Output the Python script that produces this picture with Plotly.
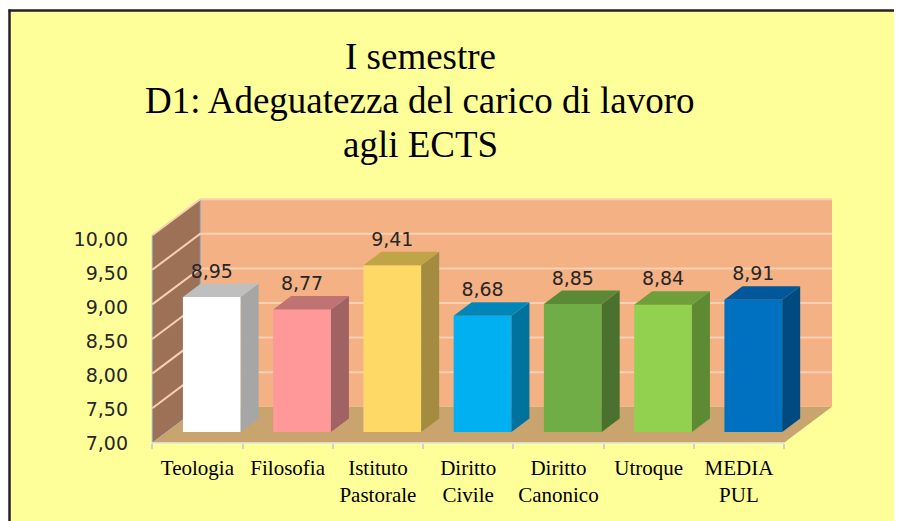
import plotly.graph_objects as go

# ---------------- data ----------------
categories = ["Teologia", "Filosofia", "Istituto<br>Pastorale", "Diritto<br>Civile",
              "Diritto<br>Canonico", "Utroque", "MEDIA<br>PUL"]
values = [8.95, 8.77, 9.41, 8.68, 8.85, 8.84, 8.91]
front_colors = ["#FFFFFF", "#FF9999", "#FFD966", "#00B0F0", "#70AD47", "#92D050", "#0070C0"]
side_colors = ["#A6A6A6", "#A06262", "#A38C3F", "#00729E", "#4A712D", "#5D8A32", "#004A82"]
top_colors = ["#BFBFBF", "#C07373", "#C0A548", "#0087B8", "#5B8A37", "#6F9E3B", "#00589A"]
y_ticks = [7.0, 7.5, 8.0, 8.5, 9.0, 9.5, 10.0]
title_lines = ["I semestre", "D1: Adeguatezza del carico di lavoro", "agli ECTS"]

# ---------------- geometry (pixel calibration, page coords minus body margin) ----------------
OFF = 8                       # browser body margin
W, H = 902 - OFF, 521 - OFF
X0PX, SX = 211.8 - OFF, 90.25     # px of category 0 centre (bar front), px per category
Y0PX, SY = 432.0 - OFF, 69.2      # px of value 7 at bar front, px per unit
BASE = y_ticks[0]
TOP = y_ticks[-1]
x_range = [(0 - X0PX) / SX, (W - X0PX) / SX]
y_range = [BASE - (H - Y0PX) / SY, BASE + Y0PX / SY]
DX, DY = 48.0 / SX, 36.0 / SY     # full-depth oblique shift in data units
D_FRONT, D_BACK = 0.30, 0.675     # bar depth span
BAR_W = 0.64
n = len(categories)
idx = list(range(n))


def proj(xc, v, d):
    return xc + DX * (d - D_FRONT), v + DY * (d - D_FRONT)


def pts(points):
    return [proj(*p) for p in points]


def path(points, close=True):
    p = pts(points)
    s = "M " + " L ".join(f"{x:.5f},{y:.5f}" for x, y in p)
    return s + (" Z" if close else "")


def closed_xy(points):
    p = pts(points)
    p.append(p[0])
    return [a for a, _ in p], [b for _, b in p]


left, right = -0.5, n - 0.5
shapes = [
    dict(type="rect", xref="paper", yref="paper", x0=1.5 / W, x1=1, y0=0, y1=1 - 2.5 / H,
         fillcolor="#FFFF99", line=dict(width=0), layer="below"),
]
# back wall
shapes.append(dict(type="path", xref="x", yref="y", layer="below",
                   path=path([(left, BASE, 1), (right, BASE, 1), (right, TOP, 1), (left, TOP, 1)]),
                   fillcolor="#F4B183", line=dict(width=0)))
# left wall
shapes.append(dict(type="path", xref="x", yref="y", layer="below",
                   path=path([(left, BASE, 0), (left, TOP, 0), (left, TOP, 1), (left, BASE, 1)]),
                   fillcolor="#9D7155", line=dict(width=1, color="#8FAACC")))
# gridlines on the walls
for t in y_ticks[1:]:
    shapes.append(dict(type="path", xref="x", yref="y", layer="below",
                       path=path([(left, t, 0), (left, t, 1), (right, t, 1)], close=False),
                       line=dict(width=2, color="#F9D0B4")))
# floor
shapes.append(dict(type="path", xref="x", yref="y", layer="below",
                   path=path([(left, BASE, 0), (right, BASE, 0), (right, BASE, 1), (left, BASE, 1)]),
                   fillcolor="#C9A46F", line=dict(width=0)))
# front floor edge
shapes.append(dict(type="path", xref="x", yref="y", layer="below",
                   path=path([(left, BASE, 0), (right, BASE, 0)], close=False),
                   line=dict(width=1.5, color="#D9D9D9")))
# frame lines
shapes.append(dict(type="line", xref="paper", yref="paper", x0=0.5 / W, x1=1,
                   y0=1 - 2.5 / H, y1=1 - 2.5 / H, line=dict(color="#222222", width=2.5),
                   layer="above"))
shapes.append(dict(type="line", xref="paper", yref="paper", x0=1.5 / W, x1=1.5 / W,
                   y0=0, y1=1 - 1.5 / H, line=dict(color="#222222", width=2.5), layer="above"))

fig = go.Figure()
deco = dict(hoverinfo="skip", showlegend=False)

# bar front faces
fig.add_trace(go.Bar(x=idx, y=[v - BASE for v in values], base=BASE, width=BAR_W,
                     marker=dict(color=front_colors, line=dict(width=0)),
                     customdata=values, hovertemplate="%{customdata:.2f}<extra></extra>",
                     showlegend=False))

# bar side and top faces
for i, v in enumerate(values):
    xr = i + BAR_W / 2
    xl = i - BAR_W / 2
    xs, ys = closed_xy([(xr, BASE, D_FRONT), (xr, v, D_FRONT), (xr, v, D_BACK), (xr, BASE, D_BACK)])
    fig.add_trace(go.Scatter(x=xs, y=ys, fill="toself", fillcolor=side_colors[i],
                             mode="lines", line=dict(width=0), **deco))
    xs, ys = closed_xy([(xl, v, D_FRONT), (xr, v, D_FRONT), (xr, v, D_BACK), (xl, v, D_BACK)])
    fig.add_trace(go.Scatter(x=xs, y=ys, fill="toself", fillcolor=top_colors[i],
                             mode="lines", line=dict(width=0), **deco))

# value labels
fig.add_trace(go.Scatter(x=idx, y=[v + 0.35 for v in values], mode="text",
                         customdata=values, texttemplate="%{customdata:.2f}",
                         textfont=dict(family="DejaVu Sans", size=19, color="#262626"),
                         **deco))

# dummy trace to carry the label axes
fig.add_trace(go.Scatter(x=[0], y=[8], xaxis="x2", yaxis="y2", mode="markers",
                         marker=dict(opacity=0), **deco))

# y2 axis calibration: 7 -> 443.5 px, 10 -> 239 px (page coords)
Y2_7, Y2_S = 443.5 - OFF, (443.5 - 239.0) / (TOP - BASE)
y2_range = [BASE - (H - Y2_7) / Y2_S, BASE + Y2_7 / Y2_S]

cat_tickvals = [proj(i, BASE, 0)[0] for i in idx]
boundary_vals = [proj(i - 0.5, BASE, 0)[0] for i in range(n + 1)]
front_edge_py = Y0PX - (proj(0, BASE, 0)[1] - BASE) * SY

fig.update_layout(
    width=W, height=H, autosize=False,
    margin=dict(l=0, r=0, t=0, b=0, pad=0),
    paper_bgcolor="white", plot_bgcolor="rgba(0,0,0,0)",
    separators=",.",
    showlegend=False,
    xaxis=dict(range=x_range, domain=[0, 1], visible=False, fixedrange=True),
    yaxis=dict(range=y_range, domain=[0, 1], visible=False, fixedrange=True),
    xaxis2=dict(range=x_range, overlaying="x", anchor="free", position=1 - front_edge_py / H,
                side="bottom", tickmode="array", tickvals=cat_tickvals, ticktext=categories,
                ticks="", showgrid=False, zeroline=False, showline=False,
                ticklabelstandoff=10,
                tickfont=dict(family="Liberation Serif", size=21, color="black"),
                minor=dict(tickmode="array", tickvals=boundary_vals, ticks="outside",
                           ticklen=5, tickcolor="#D0D0D0", tickwidth=1.5, showgrid=False),
                fixedrange=True),
    yaxis2=dict(range=y2_range, overlaying="y", anchor="free", position=(152 - OFF) / W,
                side="left", tickmode="array", tickvals=y_ticks, tickformat=".2f",
                ticks="", showgrid=False, zeroline=False, showline=False,
                ticklabelstandoff=24,
                tickfont=dict(family="DejaVu Sans", size=19, color="#262626"),
                fixedrange=True),
    shapes=shapes,
)

title_centres = [56, 100, 144]
for line, cy in zip(title_lines, title_centres):
    fig.add_annotation(text=line, xref="paper", yref="paper", x=(420 - OFF) / W,
                       y=1 - (cy - OFF) / H,
                       xanchor="center", yanchor="middle", showarrow=False,
                       font=dict(family="Liberation Serif", size=37, color="black"))

fig.write_html("out.html")
